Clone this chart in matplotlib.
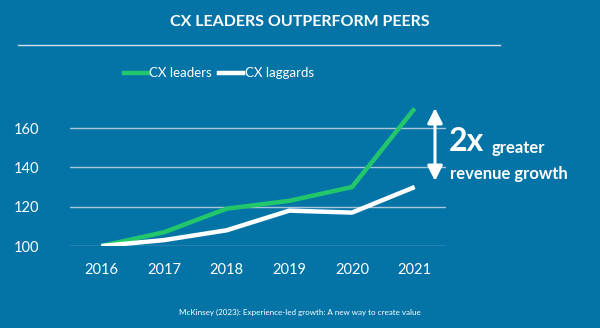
import matplotlib
matplotlib.use("Agg")
import matplotlib.pyplot as plt
from matplotlib.lines import Line2D

years = ["2016", "2017", "2018", "2019", "2020", "2021"]
leaders = [100, 107, 119, 123, 130, 170]
laggards = [100, 103, 108, 118, 117, 130]
yticks = [100, 120, 140, 160]

BG = "#0474A7"
GREEN = "#22C76B"
GRID = "#A9C6D8"
FONT = "Lato"

plt.rcParams["font.family"] = [FONT, "DejaVu Sans"]

fig = plt.figure(figsize=(6, 3.28), dpi=100)
fig.patch.set_facecolor(BG)

W, H = 600, 328
ax = fig.add_axes([70 / W, 1 - 246 / H, (446 - 70) / W, (246 - 104.5) / H])
ax.set_facecolor(BG)
x = list(range(len(years)))
ax.plot(x, leaders, color=GREEN, lw=3.2, solid_capstyle="butt", zorder=3)
ax.plot(x, laggards, color="white", lw=3.2, solid_capstyle="butt", zorder=3)
ax.set_xlim(-0.5, 5.5)
ax.set_ylim(100, 172)
ax.set_yticks(yticks)
ax.set_xticks(x)
ax.set_xticklabels(years)
for s in ax.spines.values():
    s.set_visible(False)
ax.tick_params(length=0, colors="white", labelsize=10.5)
ax.tick_params(axis="y", pad=22)
ax.tick_params(axis="x", pad=12)
ax.yaxis.grid(True, color=GRID, lw=1.0)
ax.set_axisbelow(True)

# title
fig.text(0.5, 1 - 22 / H, "CX LEADERS OUTPERFORM PEERS", ha="center", va="center",
         color="white", fontsize=11.5, fontweight="bold")
fig.add_artist(Line2D([18 / W, 500 / W], [1 - 45 / H, 1 - 45 / H], color="#CFE3EE", lw=1))

# legend
ly = 1 - 73 / H
fig.add_artist(Line2D([124 / W, 148 / W], [ly, ly], color=GREEN, lw=3.2))
fig.text(149 / W, ly, "CX leaders", ha="left", va="center", color="white", fontsize=9.5)
fig.add_artist(Line2D([219 / W, 243 / W], [ly, ly], color="white", lw=3.2))
fig.text(245 / W, ly, "CX laggards", ha="left", va="center", color="white", fontsize=9.5)

# annotation arrow
fig.patches.append(matplotlib.patches.FancyArrowPatch(
    (435 / W, 1 - 181 / H), (435 / W, 1 - 108 / H), transform=fig.transFigure,
    arrowstyle="<|-|>,head_length=9,head_width=4.5", color="white", lw=2.2,
    shrinkA=0, shrinkB=0))
fig.text(449 / W, 1 - 142 / H, "2x", ha="left", va="center", color="white",
         fontsize=23, fontweight="bold")
fig.text(492 / W, 1 - 148 / H, "greater", ha="left", va="center", color="white",
         fontsize=12, fontweight="bold")
fig.text(450 / W, 1 - 174 / H, "revenue growth", ha="left", va="center", color="white",
         fontsize=12, fontweight="bold")

fig.text(0.5, 1 - 312 / H, "McKinsey (2023): Experience-led growth: A new way to create value",
         ha="center", va="center", color="white", fontsize=5.8)

fig.savefig("out.png", dpi=100, facecolor=BG)
